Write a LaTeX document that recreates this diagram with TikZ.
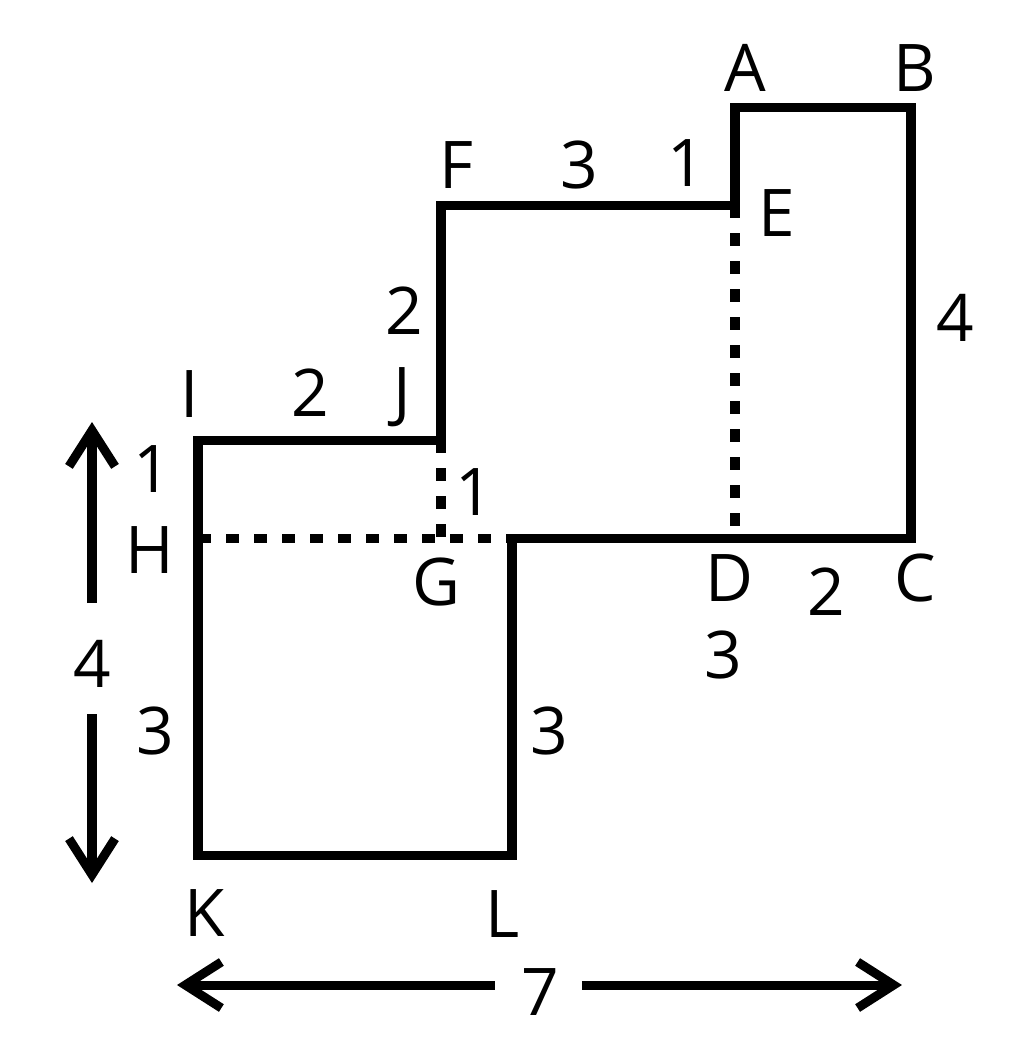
\documentclass[tikz,border=0pt]{standalone}
\usepackage{fontspec}
\setmainfont{Open Sans}
\usetikzlibrary{arrows.meta}

\tikzset{
    edge/.style={line width=0.09cm},
    hidden/.style={line width=0.09cm, dash pattern=on 0.13cm off 0.15cm},
    measure/.style={line width=0.09cm, -{Straight Barb[length=0.36cm, width=0.46cm, line width=0.09cm]}},
    lbl/.style={font=\fontsize{18.7pt}{22pt}\selectfont, inner sep=0pt}
}

\begin{document}
\begin{tikzpicture}[x=0.01cm, y=-0.01cm]
    \useasboundingbox (0,0) rectangle (1024,1050);

    % Corners of the figure
    \coordinate (A) at (735,107);
    \coordinate (B) at (911,107);
    \coordinate (C) at (911,538);
    \coordinate (D) at (735,538);
    \coordinate (E) at (735,205);
    \coordinate (F) at (441,205);
    \coordinate (G) at (441,538);
    \coordinate (H) at (198,538);
    \coordinate (I) at (198,440);
    \coordinate (J) at (441,440);
    \coordinate (K) at (198,855);
    \coordinate (L) at (512,855);
    \coordinate (M) at (512,538);

    % Outline
    \draw[edge] (A) -- (B) -- (C) -- (M) -- (L) -- (K) -- (I) -- (J) -- (F) -- (E) -- cycle;

    % Dividing lines
    \draw[hidden] (E) -- (D);
    \draw[hidden] (J) -- (G);
    \draw[hidden] (H) -- (M);

    % Point labels
    \node[lbl] (lA) at (745,68) {A};
    \node[lbl] (lB) at (915,68) {B};
    \node[lbl] (lC) at (915,578) {C};
    \node[lbl] (lD) at (729,578) {D};
    \node[lbl] (lE) at (777,213) {E};
    \node[lbl] (lF) at (456,165) {F};
    \node[lbl] (lG) at (436,582) {G};
    \node[lbl] (lH) at (150,550) {H};
    \node[lbl] (lI) at (190,394) {I};
    \node[lbl] (lJ) at (402,397) {J};
    \node[lbl] (lK) at (205,913) {K};
    \node[lbl] (lL) at (503,914) {L};

    % Lengths
    \node[lbl] (nFE) at (579,165) {3};
    \node[lbl] (nEA) at (686,163) {1};
    \node[lbl] (nJF) at (404,311) {2};
    \node[lbl] (nBC) at (955,318) {4};
    \node[lbl] (nIJ) at (310,393) {2};
    \node[lbl] (nHI) at (152,469) {1};
    \node[lbl] (nGJ) at (474,492) {1};
    \node[lbl] (nDC) at (826,592) {2};
    \node[lbl] (nMD) at (723,655) {3};
    \node[lbl] (nKH) at (155,731) {3};
    \node[lbl] (nLM) at (549,731) {3};

    % Overall sizes
    \node[lbl] (tall) at (92,664) {4};
    \node[lbl] (wide) at (540,992) {7};
    \coordinate (up) at (92,422);
    \coordinate (down) at (92,883);
    \coordinate (left) at (177,985);
    \coordinate (right) at (902,985);
    \draw[measure] (92,603) -- (up);
    \draw[measure] (92,714) -- (down);
    \draw[measure] (495,985) -- (left);
    \draw[measure] (582,985) -- (right);
\end{tikzpicture}
\end{document}
